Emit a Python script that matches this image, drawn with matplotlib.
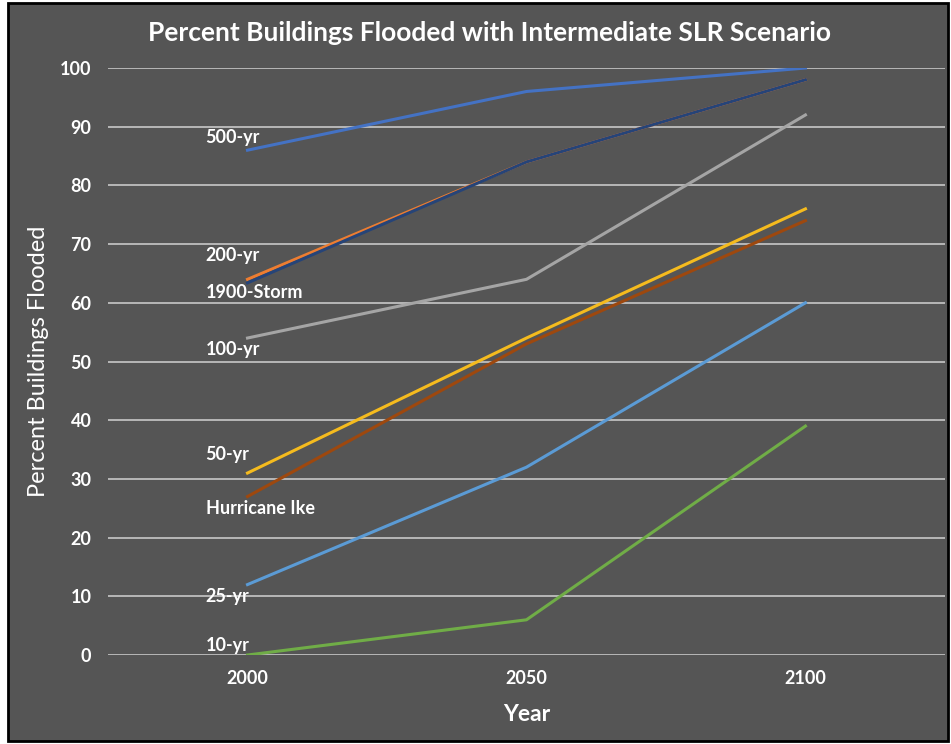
import matplotlib.pyplot as plt
from matplotlib.patches import Rectangle

years = ['2000', '2050', '2100']
yr500 = [86, 96, 100]
yr200 = [64, 84, 98]
storm1900 = [63.4, 84, 98]
yr100 = [54, 64, 92]
yr50 = [31, 54, 76]
ike = [27, 53, 74]
yr25 = [12, 32, 60]
yr10 = [0, 6, 39]

series = [
    ('500-yr', yr500, '#4472c4', 88.2),
    ('200-yr', yr200, '#ed7d31', 68.1),
    ('1900-Storm', storm1900, '#264478', 61.7),
    ('100-yr', yr100, '#a5a5a5', 52.0),
    ('50-yr', yr50, '#f5bb1e', 34.2),
    ('Hurricane Ike', ike, '#9e480e', 24.9),
    ('25-yr', yr25, '#5b9bd5', 10.0),
    ('10-yr', yr10, '#70ad47', 1.7),
]

plt.rcParams['font.family'] = ['Lato', 'DejaVu Sans']
bg = '#555555'

fig = plt.figure(figsize=(9.51, 7.44), dpi=100)
fig.patch.set_facecolor('white')

# dark panel with black frame behind the chart
back = fig.add_axes([0, 0, 1, 1], zorder=-1)
back.set_xlim(0, 951)
back.set_ylim(0, 744)
back.axis('off')
back.add_patch(Rectangle((8, 3), 940, 738, facecolor=bg,
                         edgecolor='black', linewidth=2))

ax = fig.add_axes([0.1136, 0.1196, 0.88, 0.789], zorder=1)
ax.patch.set_alpha(0)

x = list(range(len(years)))
for name, vals, color, ylab in series:
    ax.plot(x, vals, color=color, linewidth=2.2, zorder=3)
    ax.text(-0.15, ylab, name, color='white', fontsize=13, fontweight='bold',
            va='center', ha='left', zorder=4)

ax.set_xlim(-0.5, 2.5)
ax.set_ylim(0, 100)
ax.set_yticks(range(0, 101, 10))
ax.set_xticks(x)
ax.set_xticklabels(years)
ax.grid(axis='y', color='#bfbfbf', linewidth=1.3, zorder=1)
ax.set_axisbelow(True)
for s in ax.spines.values():
    s.set_visible(False)
ax.tick_params(length=0, colors='white', labelsize=13)
for lab in ax.get_xticklabels() + ax.get_yticklabels():
    lab.set_fontweight('bold')
ax.tick_params(axis='y', pad=12)
ax.tick_params(axis='x', pad=11)

ax.set_ylabel('Percent Buildings Flooded', color='white', fontsize=17, labelpad=8)
ax.set_xlabel('Year', color='white', fontsize=16.5, fontweight='bold', labelpad=12)
fig.text(0.515, 0.955, 'Percent Buildings Flooded with Intermediate SLR Scenario',
         color='white', fontsize=19, fontweight='bold', ha='center', va='center')

fig.savefig('out.png', dpi=100, facecolor=fig.get_facecolor())
